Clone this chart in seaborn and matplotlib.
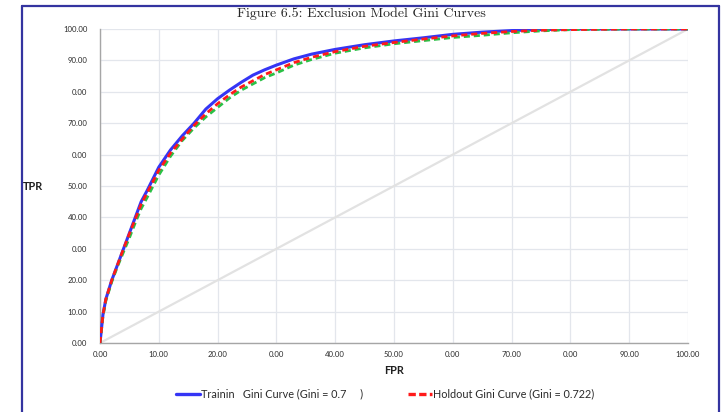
import matplotlib
matplotlib.use("Agg")
import matplotlib.pyplot as plt
from matplotlib.lines import Line2D
import seaborn as sns
import pandas as pd

# ---- data ----
fpr = [0, 0.5, 1, 2, 3, 4, 5, 6, 7, 8, 10, 12, 14, 16, 18, 20, 22, 24, 26, 28, 30,
       33, 36, 40, 45, 50, 55, 60, 65, 70, 75, 80, 90, 100]
tpr_train = [0, 9, 14, 20, 25, 30, 35, 40, 45, 48.5, 56, 61.5, 66, 70, 74.5, 77.8, 80.5,
             83, 85.3, 87, 88.5, 90.5, 92, 93.5, 95, 96.2, 97.2, 98.3, 99, 99.5, 99.8,
             100, 100, 100]
tpr_holdout = [0, 9, 14, 20, 25, 30, 34.8, 39.5, 44.2, 47.8, 55, 60.5, 65, 69.3, 73,
               76.2, 79, 81.5, 83.5, 85.5, 87, 89.3, 91, 92.8, 94.5, 95.7, 96.8, 97.8,
               98.6, 99.2, 99.6, 99.8, 100, 100]
tpr_third = [0, 8.5, 13.5, 19.5, 24.5, 29, 33.5, 38.3, 42.8, 46.3, 53.5, 59.5, 64.5,
             68.5, 72, 75, 78, 80.5, 82.5, 84.5, 86, 88.5, 90.3, 92.3, 94, 95.3, 96.3,
             97.3, 98, 98.8, 99.4, 99.8, 100, 100]
diag = [0, 100]

xtick_vals = [0, 10, 20, 30, 40, 50, 60, 70, 80, 90, 100]
xtick_labels = ["0.00", "10.00", "20.00", "0.00", "40.00", "50.00", "0.00", "70.00",
                "0.00", "90.00", "100.00"]
ytick_vals = [0, 10, 20, 30, 40, 50, 60, 70, 80, 90, 100]
ytick_labels = ["0.00", "10.00", "20.00", "0.00", "40.00", "50.00", "0.00", "70.00",
                "0.00", "90.00", "100.00"]

title = "Figure 6.5: Exclusion Model Gini Curves"
label_train = "Trainin   Gini Curve (Gini = 0.7     )"
label_holdout = "Holdout Gini Curve (Gini = 0.722)"

sns.set_style("white")
plt.rcParams['font.family'] = ['Lato', 'DejaVu Sans']

fig = plt.figure(figsize=(7.21, 4.12), dpi=100)
ax = fig.add_axes([100/721, 1-343/412, 588/721, 314/412])

df = pd.DataFrame({"fpr": fpr, "train": tpr_train, "holdout": tpr_holdout, "third": tpr_third})
ddf = pd.DataFrame({"x": diag, "y": diag})

sns.lineplot(data=ddf, x="x", y="y", ax=ax, color="#e2e2e2", lw=1.6, zorder=2)
sns.lineplot(data=df, x="fpr", y="train", ax=ax, color="#3535f5", lw=2.2, sort=False, zorder=3)
sns.lineplot(data=df, x="fpr", y="third", ax=ax, color="#2ac045", lw=2.0, sort=False, zorder=4)
ax.lines[-1].set_dashes([2.2, 1.4])
sns.lineplot(data=df, x="fpr", y="holdout", ax=ax, color="#ff1a1a", lw=2.0, sort=False, zorder=5)
ax.lines[-1].set_dashes([2.2, 1.4])

ax.set_xlim(0, 100)
ax.set_ylim(0, 100)
ax.set_xticks(xtick_vals)
ax.set_xticklabels(xtick_labels)
ax.set_yticks(ytick_vals)
ax.set_yticklabels(ytick_labels)
ax.tick_params(axis='both', length=0, labelsize=5.6, labelcolor="#2a2a2a")
ax.tick_params(axis='y', pad=9)
ax.tick_params(axis='x', pad=6)
ax.grid(True, color="#e3e6ec", lw=0.9)
ax.set_axisbelow(True)
for s in ["top", "right"]:
    ax.spines[s].set_visible(False)
for s in ["left", "bottom"]:
    ax.spines[s].set_color("#a6a6a6")
    ax.spines[s].set_linewidth(1.0)
ax.set_xlabel("")
ax.set_ylabel("")

fig.text(23/721, 1-186/412, "TPR", fontsize=7.8, fontweight="bold", color="#202020",
         ha="left", va="center")
fig.text(394/721, 1-371/412, "FPR", fontsize=7.8, fontweight="bold", color="#202020",
         ha="center", va="center")
fig.text(361/721, 1-14/412, title, family="cmr10", fontsize=10, ha="center", va="center")

handles = [Line2D([], [], color="#3535f5", lw=2.4),
           Line2D([], [], color="#ff1a1a", lw=2.4, dashes=[2.2, 1.0])]
fig.legend(handles, [label_train, label_holdout], loc="center",
           bbox_to_anchor=(385/721, 1-394/412), ncol=2, frameon=False, fontsize=7.8,
           handlelength=2.2, handletextpad=0.05, columnspacing=4.2, labelcolor="#2a2a2a")

fc = "#3434a0"
fig.add_artist(Line2D([22/721, 22/721], [0, 1-6/412], color=fc, lw=1.6))
fig.add_artist(Line2D([22/721, 719/721], [1-6/412, 1-6/412], color=fc, lw=1.6))
fig.add_artist(Line2D([719/721, 719/721], [0, 1-6/412], color=fc, lw=1.6))

fig.savefig("out.png", dpi=100)
